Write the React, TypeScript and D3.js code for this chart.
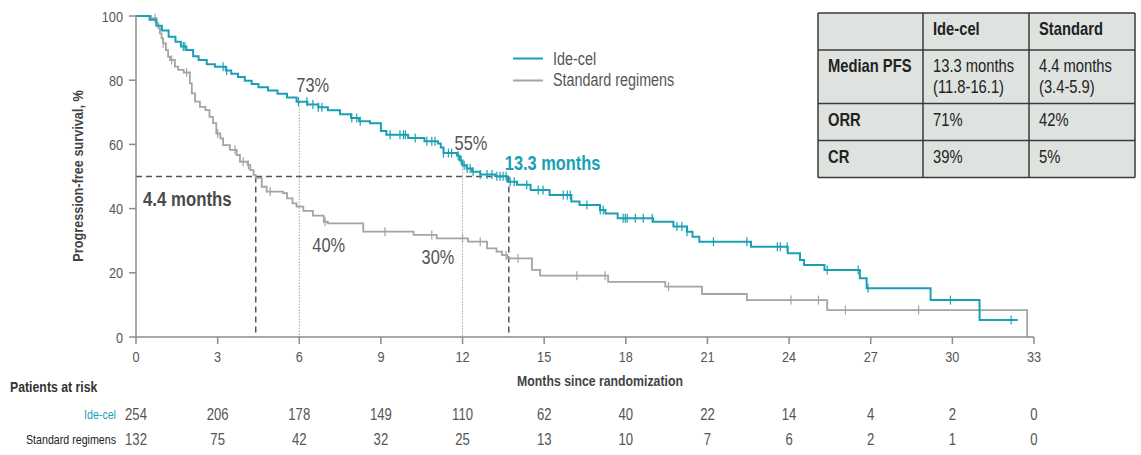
import React from 'react';
import * as d3 from 'd3';

// ---------- DATA ----------
const xTicks = [0, 3, 6, 9, 12, 15, 18, 21, 24, 27, 30, 33];
const yTicks = [0, 20, 40, 60, 80, 100];

// Kaplan-Meier steps: [month, survival %] (value holds from that month on)
const ideCelSteps: [number, number][] = [
  [0, 100], [0.5, 98.8], [0.75, 97], [0.95, 95.5], [1.2, 93.5], [1.45, 92], [1.65, 90.5], [1.85, 89.4],
  [2.1, 87.5], [2.3, 86.3], [2.6, 85], [2.9, 84.2], [3.3, 83], [3.5, 82], [3.75, 81], [4.0, 79.8],
  [4.25, 78.8], [4.5, 77.8], [4.85, 76.8], [5.2, 75.8], [5.55, 74.6], [5.9, 73.3], [6.3, 72.4], [6.7, 71.6],
  [7.05, 70.6], [7.5, 69.4], [7.9, 68.2], [8.2, 67.2], [8.6, 66.6], [9.0, 64.2], [9.2, 63], [10.0, 62],
  [10.6, 61], [11.1, 60.3], [11.2, 59], [11.3, 57.3], [11.8, 56.5], [11.9, 55], [12.0, 53.5], [12.15, 52.5],
  [12.35, 51.5], [12.65, 50.6], [13.2, 50.1], [13.65, 48.4], [14.0, 47.4], [14.5, 45.8], [15.2, 44.2],
  [16.0, 42.2], [16.3, 41.1], [17.05, 39.6], [17.25, 38.5], [17.7, 37], [19.0, 35.9], [19.75, 34.4],
  [20.25, 32.8], [20.45, 31.2], [20.7, 29.7], [22.6, 28.1], [23.95, 26.1], [24.4, 24], [24.55, 22.4],
  [25.3, 20.9], [26.6, 18.3], [26.85, 15.2], [29.2, 11.5], [31.0, 5.3],
];
const ideCelEnd = 32.4;
const ideCelCensors = [
  1.74, 1.8, 3.2, 3.33, 5.97, 6.28, 6.5, 6.7, 6.83, 7.93, 8.11, 8.24, 9.34, 9.7, 9.83, 9.9, 10.26, 10.69,
  10.87, 10.99, 11.3, 11.48, 11.6, 11.84, 11.95, 12.06, 12.17, 12.28, 12.39, 12.65, 12.9, 13.08, 13.26,
  13.38, 13.49, 13.6, 13.75, 13.9, 14.36, 14.78, 14.96, 15.7, 15.85, 15.96, 16.57, 17.06, 17.17, 17.9,
  17.98, 18.05, 18.35, 18.64, 18.97, 19.88, 20.06, 20.25, 21.22, 22.45, 23.57, 23.68, 23.93, 25.4, 26.54,
  26.9, 29.93, 32.16,
];

const stdSteps: [number, number][] = [
  [0, 100], [0.55, 99.3], [0.75, 97.7], [0.82, 96.2], [0.88, 94.6], [0.94, 93], [1.0, 91.5], [1.1, 89.4],
  [1.18, 87.3], [1.25, 86.3], [1.43, 84.2], [1.55, 83.2], [1.75, 82.4], [1.98, 79], [2.05, 75.9],
  [2.17, 73.3], [2.35, 71.7], [2.55, 70.7], [2.7, 68.6], [2.83, 66.6], [2.95, 63.4], [3.1, 61.9],
  [3.2, 59.8], [3.45, 58.3], [3.7, 56.7], [3.82, 54.6], [4.1, 53.6], [4.2, 52], [4.32, 50.5], [4.4, 49.6],
  [4.62, 46.8], [4.8, 45.3], [5.4, 44.8], [5.55, 43.2], [5.75, 41.6], [5.9, 40.6], [6.15, 39.3],
  [6.5, 37.8], [6.9, 35.9], [7.05, 35.4], [8.35, 32.8], [10.2, 31.8], [11.05, 30.7], [12.2, 29.7],
  [12.9, 27.6], [13.25, 26.6], [13.45, 25.5], [13.65, 24.5], [14.55, 20.9], [14.85, 19.1], [17.35, 17.2],
  [19.45, 15.7], [20.8, 13.4], [22.45, 11.5], [25.4, 8.4],
];
const stdEnd = 32.75;
const stdCensors = [
  0.7, 1.0, 1.31, 1.86, 3.0, 3.64, 3.94, 4.13, 4.93, 6.95, 9.15, 10.87, 12.0, 12.65, 13.6, 14.04, 16.2,
  17.24, 19.57, 24.07, 25.08, 26.07, 28.76,
];

const riskTimes = [0, 3, 6, 9, 12, 15, 18, 21, 24, 27, 30, 33];
const riskIdeCel = [254, 206, 178, 149, 110, 62, 40, 22, 14, 4, 2, 0];
const riskStd = [132, 75, 42, 32, 25, 13, 10, 7, 6, 2, 1, 0];

const seriesNames = ['Ide-cel', 'Standard regimens'];
const landmarkTimes = [6, 12];
const landmarkIdeCel = [73, 55];
const landmarkStd = [40, 30];
const medianLabels = ['13.3 months', '4.4 months'];
const medianLinePos = [13.7, 4.4];

const tableHeader = ['', 'Ide-cel', 'Standard'];
const tableRows: string[][][] = [
  [['Median PFS'], ['13.3 months', '(11.8-16.1)'], ['4.4 months', '(3.4-5.9)']],
  [['ORR'], ['71%'], ['42%']],
  [['CR'], ['39%'], ['5%']],
];

// ---------- STYLE ----------
const FONT = "'Liberation Sans', Arial, sans-serif";
const NARROW = 0.82; // horizontal condensation to mimic Arial Narrow
const TEAL = '#1aa0b5';
const GRAY = '#a4a4a4';
const AXIS = '#8c8c8c';
const TXT = '#555555';

const W = 1141;
const H = 455;
const x = d3.scaleLinear().domain([0, 33]).range([136, 1034]);
const y = d3.scaleLinear().domain([0, 100]).range([337, 16]);

function survAt(steps: [number, number][], t: number) {
  let v = steps[0][1];
  for (const [tt, s] of steps) {
    if (tt <= t) v = s;
    else break;
  }
  return v;
}

const line = d3
  .line<[number, number]>()
  .x((d) => x(d[0]))
  .y((d) => y(d[1]))
  .curve(d3.curveStepAfter);

function T(props: any) {
  const { x: tx, y: ty, rotate, children, ...rest } = props;
  const tr = `translate(${tx},${ty})${rotate ? ` rotate(${rotate})` : ''} scale(${NARROW},1)`;
  return (
    <text transform={tr} x={0} y={0} {...rest}>
      {children}
    </text>
  );
}

export default function App() {
  const idePts: [number, number][] = [...ideCelSteps, [ideCelEnd, ideCelSteps[ideCelSteps.length - 1][1]]];
  const stdPts: [number, number][] = [
    ...stdSteps,
    [stdEnd, stdSteps[stdSteps.length - 1][1]],
    [stdEnd, 0],
  ];

  // table geometry
  const tX = [818, 923, 1029, 1135];
  const rowHeights = [37, ...tableRows.map((r) => 37 + (Math.max(...r.map((c) => c.length)) - 1) * 16.5)];
  const tY: number[] = [13];
  rowHeights.forEach((h) => tY.push(tY[tY.length - 1] + h));

  return (
    <svg
      width={W}
      height={H}
      style={{ position: 'absolute', left: 0, top: 0, background: '#fff' }}
      fontFamily={FONT}
    >
      {/* reference lines */}
      <line x1={x(0)} x2={x(medianLinePos[0])} y1={y(50)} y2={y(50)} stroke="#555" strokeWidth={1.5} strokeDasharray="6,4" />
      {medianLinePos.map((m, i) => (
        <line key={'mv' + i} x1={x(m)} x2={x(m)} y1={y(50)} y2={y(0)} stroke="#555" strokeWidth={1.5} strokeDasharray="6,4" />
      ))}
      {landmarkTimes.map((t, i) => (
        <line key={'lm' + i} x1={x(t)} x2={x(t)} y1={y(landmarkIdeCel[i])} y2={y(0)} stroke="#777" strokeWidth={1} strokeDasharray="1,2" />
      ))}

      {/* curves */}
      <path d={line(stdPts) || ''} fill="none" stroke={GRAY} strokeWidth={1.8} />
      {stdCensors.map((t, i) => (
        <line key={'sc' + i} x1={x(t)} x2={x(t)} y1={y(survAt(stdSteps, t)) - 4.5} y2={y(survAt(stdSteps, t)) + 4.5} stroke={GRAY} strokeWidth={1.2} />
      ))}
      <path d={line(idePts) || ''} fill="none" stroke={TEAL} strokeWidth={2} />
      {ideCelCensors.map((t, i) => (
        <line key={'ic' + i} x1={x(t)} x2={x(t)} y1={y(survAt(ideCelSteps, t)) - 4.5} y2={y(survAt(ideCelSteps, t)) + 4.5} stroke={TEAL} strokeWidth={1.2} />
      ))}

      {/* axes */}
      <line x1={x(0)} x2={x(0)} y1={y(0)} y2={y(100)} stroke={AXIS} strokeWidth={1.5} />
      <line x1={x(0)} x2={x(33)} y1={y(0)} y2={y(0)} stroke={AXIS} strokeWidth={1.5} />
      {yTicks.map((v) => (
        <g key={'yt' + v}>
          <line x1={x(0) - 7} x2={x(0)} y1={y(v)} y2={y(v)} stroke={AXIS} strokeWidth={1.5} />
          <T x={x(0) - 13} y={y(v) + 5.5} textAnchor="end" fontSize={15.5} fill={TXT}>{v}</T>
        </g>
      ))}
      {xTicks.map((v) => (
        <g key={'xt' + v}>
          <line x1={x(v)} x2={x(v)} y1={y(0)} y2={y(0) + 7} stroke={AXIS} strokeWidth={1.5} />
          <T x={x(v)} y={362} textAnchor="middle" fontSize={15.5} fill={TXT}>{v}</T>
        </g>
      ))}
      <T x={600} y={386} textAnchor="middle" fontSize={15} fontWeight="bold" fill="#444">Months since randomization</T>
      <T x={83} y={176} rotate={-90} textAnchor="middle" fontSize={15.5} fontWeight="bold" fill="#444">Progression-free survival, %</T>

      {/* annotations */}
      <T x={x(landmarkTimes[0]) - 3} y={y(landmarkIdeCel[0]) - 11} fontSize={20} fill={TXT}>{landmarkIdeCel[0]}%</T>
      <T x={x(landmarkTimes[1]) - 8} y={y(landmarkIdeCel[1]) - 10} fontSize={20} fill={TXT}>{landmarkIdeCel[1]}%</T>
      <T x={x(landmarkTimes[0]) + 13} y={y(landmarkStd[0]) + 43.5} fontSize={20} fill={TXT}>{landmarkStd[0]}%</T>
      <T x={x(landmarkTimes[1]) - 41} y={y(landmarkStd[1]) + 23} fontSize={20} fill={TXT}>{landmarkStd[1]}%</T>
      <T x={x(medianLinePos[0]) - 4} y={170} fontSize={20} fontWeight="bold" fill={TEAL}>{medianLabels[0]}</T>
      <T x={143} y={206} fontSize={20.5} fontWeight="bold" fill="#4a4a4a">{medianLabels[1]}</T>

      {/* legend */}
      <line x1={513} x2={543} y1={58.5} y2={58.5} stroke={TEAL} strokeWidth={2} />
      <T x={553} y={65} fontSize={17.5} fill={TXT}>{seriesNames[0]}</T>
      <line x1={513} x2={543} y1={80.5} y2={80.5} stroke={GRAY} strokeWidth={2} />
      <T x={553} y={86} fontSize={17.5} fill={TXT}>{seriesNames[1]}</T>

      {/* risk table */}
      <T x={10} y={392} fontSize={15} fontWeight="bold" fill="#333">Patients at risk</T>
      <T x={116} y={419} textAnchor="end" fontSize={13} fill={TEAL}>{seriesNames[0]}</T>
      <T x={116} y={444} textAnchor="end" fontSize={13} fill="#222">{seriesNames[1]}</T>
      {riskTimes.map((t, i) => (
        <g key={'r' + i}>
          <T x={x(t)} y={420} textAnchor="middle" fontSize={16} fill={TXT}>{riskIdeCel[i]}</T>
          <T x={x(t)} y={445} textAnchor="middle" fontSize={16} fill={TXT}>{riskStd[i]}</T>
        </g>
      ))}

      {/* summary table */}
      <rect x={tX[0]} y={tY[0]} width={tX[3] - tX[0]} height={tY[tY.length - 1] - tY[0]} fill="#dfe3df" />
      {tX.map((xx, i) => (
        <line key={'tc' + i} x1={xx} x2={xx} y1={tY[0]} y2={tY[tY.length - 1]} stroke="#3a3a3a" strokeWidth={1.5} />
      ))}
      {tY.map((yy, i) => (
        <line key={'tr' + i} x1={tX[0]} x2={tX[3]} y1={yy} y2={yy} stroke="#3a3a3a" strokeWidth={1.5} />
      ))}
      {tableHeader.map((h, i) => (
        <T key={'th' + i} x={tX[i] + 10} y={tY[0] + 22} fontSize={18} fontWeight="bold" fill="#222">{h}</T>
      ))}
      {tableRows.map((row, r) =>
        row.map((cell, c) =>
          cell.map((ln, k) => (
            <T
              key={`td${r}-${c}-${k}`}
              x={tX[c] + 10}
              y={tY[r + 1] + 22 + k * 21}
              fontSize={18}
              fontWeight={c === 0 ? 'bold' : 'normal'}
              fill="#222"
            >
              {ln}
            </T>
          ))
        )
      )}
    </svg>
  );
}
